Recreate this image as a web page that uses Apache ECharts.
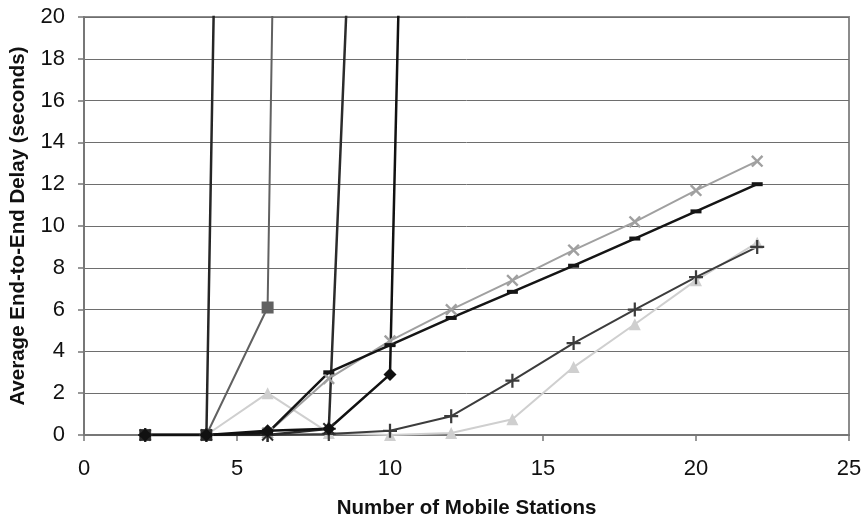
<!DOCTYPE html>
<html><head><meta charset="utf-8">
<script src="https://cdn.jsdelivr.net/npm/echarts@6/dist/echarts.min.js"></script>
<style>html,body{margin:0;padding:0;background:#fff}#c{width:867px;height:517px}</style>
</head><body><div id="c"></div>
<script>
const xDiamond = [2, 4, 6, 8, 10, 12];
const yDiamond = [0, 0, 0.2, 0.3, 2.9, 129];
const xSquare = [2, 4, 6, 8];
const ySquare = [0, 0, 6.1, 188];
const xTriangle = [2, 4, 6, 8, 10, 12, 14, 16, 18, 20, 22];
const yTriangle = [0, 0, 2.0, 0.1, 0, 0.1, 0.75, 3.25, 5.3, 7.4, 9.2];
const xCross = [2, 4, 6, 8, 10, 12, 14, 16, 18, 20, 22];
const yCross = [0, 0, 0.1, 2.7, 4.5, 6.0, 7.4, 8.85, 10.2, 11.7, 13.1];
const xStar = [2, 4, 6, 8, 10];
const yStar = [0, 0, 0, 0.3, 70];
const xCircle = [2, 4, 6];
const yCircle = [0, 0, 170];
const xPlus = [2, 4, 6, 8, 10, 12, 14, 16, 18, 20, 22];
const yPlus = [0, 0, 0, 0.05, 0.2, 0.9, 2.6, 4.4, 6.0, 7.55, 9.0];
const xDash = [2, 4, 6, 8, 10, 12, 14, 16, 18, 20, 22];
const yDash = [0, 0, 0.1, 3.0, 4.3, 5.6, 6.85, 8.1, 9.4, 10.7, 12.0];

const xTicks = [0, 5, 10, 15, 20, 25];
const yTicks = [0, 2, 4, 6, 8, 10, 12, 14, 16, 18, 20];

const PLUS = 'path://M4.2,0H5.8V4.2H10V5.8H5.8V10H4.2V5.8H0V4.2H4.2Z';
const STAR = 'path://M4.3,0H5.7V4.3H10V5.7H5.7V10H4.3V5.7H0V4.3H4.3Z M0.6,1.6L1.6,0.6L5,4L8.4,0.6L9.4,1.6L6,5L9.4,8.4L8.4,9.4L5,6L1.6,9.4L0.6,8.4L4,5Z';

function pts(xs, ys){ return xs.map((x,i)=>[x, ys[i]]); }
function s(name, xs, ys, color, width, symbol, size, rot){
  return {name, type:'line', data: pts(xs, ys), clip:true, z: 2,
    lineStyle:{color, width}, itemStyle:{color},
    symbol, symbolSize:size, symbolRotate: rot||0, showSymbol:true, animation:false};
}
const chart = echarts.init(document.getElementById('c'));
chart.setOption({
  backgroundColor:'#fff',
  animation:false,
  grid:{left:84, right:18, top:17, bottom:82, show:true, borderColor:'#8c8c8c', borderWidth:2,
    containLabel:false, outerBoundsMode:'none'},
  xAxis:{type:'value', min:0, max:25, interval:5,
    name:'Number of Mobile Stations', nameLocation:'middle', nameGap:63,
    nameTextStyle:{fontFamily:'Liberation Sans', fontWeight:'bold', fontSize:20.5, color:'#111'},
    axisLine:{show:true, lineStyle:{color:'#777', width:2}},
    axisTick:{show:true, length:6, lineStyle:{color:'#777', width:1.5}},
    axisLabel:{fontFamily:'Liberation Sans', fontSize:22, color:'#111', margin:23,
      formatter:v=>xTicks.includes(v)?String(v):''},
    splitLine:{show:false}},
  yAxis:{type:'value', min:0, max:20, interval:2,
    name:'Average End-to-End Delay (seconds)', nameLocation:'middle', nameGap:55,
    nameTextStyle:{fontFamily:'Liberation Sans', fontWeight:'bold', fontSize:20.5, color:'#111'},
    axisLine:{show:true, lineStyle:{color:'#777', width:2}},
    axisTick:{show:true, length:6, lineStyle:{color:'#777', width:1.5}},
    axisLabel:{fontFamily:'Liberation Sans', fontSize:22, color:'#111', margin:19,
      formatter:v=>yTicks.includes(v)?String(v):''},
    splitLine:{show:true, lineStyle:{color:'#6e6e6e', width:1}}},
  series:[
    s('Triangle', xTriangle, yTriangle, '#cfcfcf', 2, 'triangle', 12),
    s('Cross', xCross, yCross, '#a0a0a0', 2, PLUS, 15, 45),
    s('Square', xSquare, ySquare, '#616161', 2, 'rect', 12),
    s('Plus', xPlus, yPlus, '#3c3c3c', 2, PLUS, 14),
    s('Circle', xCircle, yCircle, '#262626', 2.5, 'rect', 11),
    s('Star', xStar, yStar, '#2b2b2b', 2.5, STAR, 14),
    s('Dash', xDash, yDash, '#151515', 2.5, 'rect', [11,4]),
    s('Diamond', xDiamond, yDiamond, '#111', 2.5, 'diamond', 13)
  ]
});
</script></body></html>
